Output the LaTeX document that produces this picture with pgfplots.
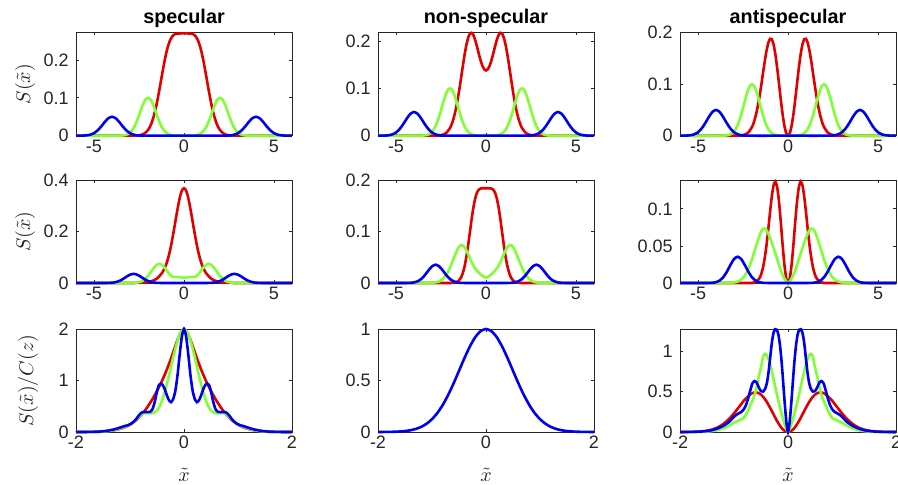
\documentclass[border=0pt]{standalone}
\usepackage{pgfplots}
\pgfplotsset{compat=1.18}
\usepackage{pgfplotstable}
\usepackage{fontspec}
\setmainfont{Liberation Sans}

\definecolor{cred}{RGB}{224,0,0}
\definecolor{cgreen}{RGB}{128,255,51}
\definecolor{cblue}{RGB}{0,0,240}
\definecolor{axgray}{RGB}{38,38,38}

% shared side peaks, row 1 (same in all three columns)
\pgfplotstableread{
x y
-6 0
-4 0
-3.6 0.0002
-3.4 0.0007
-3.2 0.0027
-3.0 0.0082
-2.9 0.0132
-2.8 0.0202
-2.7 0.0294
-2.6 0.0407
-2.5 0.0535
-2.4 0.0670
-2.3 0.0799
-2.2 0.0905
-2.1 0.0975
-2.0 0.1000
-1.9 0.0975
-1.8 0.0905
-1.7 0.0799
-1.6 0.0670
-1.5 0.0535
-1.4 0.0407
-1.3 0.0294
-1.2 0.0202
-1.1 0.0132
-1.0 0.0082
-0.9 0.0049
-0.8 0.0027
-0.6 0.0007
-0.4 0.0002
0 0
0.4 0.0002
0.6 0.0007
0.8 0.0027
0.9 0.0049
1.0 0.0082
1.1 0.0132
1.2 0.0202
1.3 0.0294
1.4 0.0407
1.5 0.0535
1.6 0.0670
1.7 0.0799
1.8 0.0905
1.9 0.0975
2.0 0.1000
2.1 0.0975
2.2 0.0905
2.3 0.0799
2.4 0.0670
2.5 0.0535
2.6 0.0407
2.7 0.0294
2.8 0.0202
2.9 0.0132
3.0 0.0082
3.2 0.0027
3.4 0.0007
3.6 0.0002
4 0
6 0
}\greenA

\pgfplotstableread{
x y
-6 0
-5.8 0.0001
-5.6 0.0003
-5.4 0.0010
-5.2 0.0028
-5.0 0.0068
-4.8 0.0139
-4.6 0.0243
-4.4 0.0363
-4.2 0.0462
-4.0 0.0500
-3.8 0.0462
-3.6 0.0363
-3.4 0.0243
-3.2 0.0139
-3.0 0.0068
-2.8 0.0028
-2.6 0.0010
-2.4 0.0003
-2.2 0.0001
-2.0 0
0 0
2.0 0
2.2 0.0001
2.4 0.0003
2.6 0.0010
2.8 0.0028
3.0 0.0068
3.2 0.0139
3.4 0.0243
3.6 0.0363
3.8 0.0462
4.0 0.0500
4.2 0.0462
4.4 0.0363
4.6 0.0243
4.8 0.0139
5.0 0.0068
5.2 0.0028
5.4 0.0010
5.6 0.0003
5.8 0.0001
6 0
}\blueA

% shared side peaks, row 2
\pgfplotstableread{
x y
-6 0
-4.6 0
-4.4 0.0001
-4.2 0.0003
-4.0 0.0011
-3.8 0.0033
-3.6 0.0077
-3.4 0.0151
-3.2 0.0243
-3.0 0.0323
-2.8 0.0355
-2.6 0.0323
-2.4 0.0243
-2.2 0.0151
-2.0 0.0077
-1.8 0.0033
-1.6 0.0011
-1.4 0.0003
-1.2 0.0001
-1.0 0
0 0
1.0 0
1.2 0.0001
1.4 0.0003
1.6 0.0011
1.8 0.0033
2.0 0.0077
2.2 0.0151
2.4 0.0243
2.6 0.0323
2.8 0.0355
3.0 0.0323
3.2 0.0243
3.4 0.0151
3.6 0.0077
3.8 0.0033
4.0 0.0011
4.2 0.0003
4.4 0.0001
4.6 0
6 0
}\blueB

\pgfplotsset{
  panel/.style={
    scale only axis, width=108pt, height=51.5pt,
    anchor=north west, clip=false, ymin=0,
    axis line style={axgray, line width=0.4pt},
    every tick/.style={axgray, line width=0.4pt},
    major tick length=1.3pt, tick align=inside,
    scaled ticks=false,
    /pgf/number format/assume math mode=true,
    tick label style={font=\fontsize{9}{10}\selectfont, text=axgray},
    xticklabel style={inner sep=2pt},
    yticklabel style={inner sep=3.5pt},
    every axis title shift=0pt,
    title style={font=\fontsize{9.9}{11}\selectfont\bfseries, at={(0.5,1)}, anchor=base, yshift=4.4pt},
    ylabel style={at={(axis description cs:-0.236,0.5)}, anchor=center, font=\fontsize{9.9}{11}\selectfont, text=axgray},
    xlabel style={at={(axis description cs:0.5,0)}, anchor=base, yshift=-24.7pt, font=\fontsize{9.9}{11}\selectfont, text=axgray},
    every axis plot/.append style={line width=1.3pt, smooth, tension=0.4},
  },
  wide/.style={xmin=-6, xmax=6, xtick={-5,0,5}, xticklabels={-5,0,5}},
  narrow/.style={xmin=-2, xmax=2, xtick={-2,0,2}, xticklabels={-2,0,2}},
}

\begin{document}
\begin{tikzpicture}
\useasboundingbox (0,0) rectangle (449pt,-242.5pt);

% ---------------- row 1 ----------------
\begin{axis}[panel, wide, at={(38pt,-16.35pt)}, ymax=0.272,
  ytick={0,0.1,0.2}, yticklabels={0,0.1,0.2},
  title={specular}, ylabel={$S(\tilde{x})$}]
\addplot[cred] coordinates {(-6,0) (-3,0) (-2.8,0.0001) (-2.6,0.0005) (-2.4,0.0018) (-2.2,0.0056) (-2,0.0148) (-1.9,0.0227) (-1.8,0.0337) (-1.7,0.0481) (-1.6,0.0663) (-1.5,0.0880) (-1.4,0.1128) (-1.3,0.1394) (-1.2,0.1665) (-1.1,0.1924) (-1,0.2154) (-0.9,0.2345) (-0.8,0.2489) (-0.7,0.2588) (-0.6,0.2649) (-0.5,0.2681) (-0.4,0.2694) (-0.3,0.2699) (-0.2,0.27) (-0.1,0.27) (0,0.27) (0.1,0.27) (0.2,0.27) (0.3,0.2699) (0.4,0.2694) (0.5,0.2681) (0.6,0.2649) (0.7,0.2588) (0.8,0.2489) (0.9,0.2345) (1,0.2154) (1.1,0.1924) (1.2,0.1665) (1.3,0.1394) (1.4,0.1128) (1.5,0.0880) (1.6,0.0663) (1.7,0.0481) (1.8,0.0337) (1.9,0.0227) (2,0.0148) (2.2,0.0056) (2.4,0.0018) (2.6,0.0005) (2.8,0.0001) (3,0) (6,0)};
\addplot[cgreen] table {\greenA};
\addplot[cblue] table {\blueA};
\end{axis}

\begin{axis}[panel, wide, at={(189pt,-16.35pt)}, ymax=0.2175,
  ytick={0,0.1,0.2}, yticklabels={0,0.1,0.2},
  title={non-specular}]
\addplot[cred] coordinates {(-6,0) (-3,0) (-2.8,0.0002) (-2.6,0.0006) (-2.4,0.0020) (-2.2,0.0062) (-2,0.0162) (-1.9,0.0248) (-1.8,0.0366) (-1.7,0.0519) (-1.6,0.0710) (-1.5,0.0933) (-1.4,0.1181) (-1.3,0.1438) (-1.2,0.1684) (-1.1,0.1898) (-1,0.2058) (-0.9,0.2152) (-0.8,0.2172) (-0.7,0.2124) (-0.6,0.2020) (-0.5,0.1882) (-0.4,0.1730) (-0.3,0.1589) (-0.2,0.1476) (-0.1,0.1403) (0,0.1377) (0.1,0.1403) (0.2,0.1476) (0.3,0.1589) (0.4,0.1730) (0.5,0.1882) (0.6,0.2020) (0.7,0.2124) (0.8,0.2172) (0.9,0.2152) (1,0.2058) (1.1,0.1898) (1.2,0.1684) (1.3,0.1438) (1.4,0.1181) (1.5,0.0933) (1.6,0.0710) (1.7,0.0519) (1.8,0.0366) (1.9,0.0248) (2,0.0162) (2.2,0.0062) (2.4,0.0020) (2.6,0.0006) (2.8,0.0002) (3,0) (6,0)};
\addplot[cgreen] table {\greenA};
\addplot[cblue] table {\blueA};
\end{axis}

\begin{axis}[panel, wide, at={(340pt,-16.35pt)}, ymax=0.2,
  ytick={0,0.1,0.2}, yticklabels={0,0.1,0.2},
  title={antispecular}]
\addplot[cred] coordinates {(-6,0) (-3,0) (-2.8,0.0002) (-2.6,0.0006) (-2.4,0.0021) (-2.2,0.0065) (-2,0.0169) (-1.9,0.0258) (-1.8,0.0380) (-1.7,0.0536) (-1.6,0.0728) (-1.5,0.0950) (-1.4,0.1188) (-1.3,0.1425) (-1.2,0.1637) (-1.1,0.1797) (-1,0.1881) (-0.9,0.1874) (-0.8,0.1769) (-0.7,0.1575) (-0.6,0.1311) (-0.5,0.1008) (-0.4,0.0698) (-0.3,0.0416) (-0.2,0.0193) (-0.1,0.0049) (0,0) (0.1,0.0049) (0.2,0.0193) (0.3,0.0416) (0.4,0.0698) (0.5,0.1008) (0.6,0.1311) (0.7,0.1575) (0.8,0.1769) (0.9,0.1874) (1,0.1881) (1.1,0.1797) (1.2,0.1637) (1.3,0.1425) (1.4,0.1188) (1.5,0.0950) (1.6,0.0728) (1.7,0.0536) (1.8,0.0380) (1.9,0.0258) (2,0.0169) (2.2,0.0065) (2.4,0.0021) (2.6,0.0006) (2.8,0.0002) (3,0) (6,0)};
\addplot[cgreen] table {\greenA};
\addplot[cblue] table {\blueA};
\end{axis}

% ---------------- row 2 ----------------
\begin{axis}[panel, wide, at={(38pt,-90pt)}, ymax=0.4,
  ytick={0,0.2,0.4}, yticklabels={0,0.2,0.4},
  ylabel={$S(\tilde{x})$}]
\addplot[cred] coordinates {(-6,0) (-3,0) (-2.4,0.001) (-2,0.0035) (-1.8,0.007) (-1.6,0.013) (-1.4,0.024) (-1.2,0.041) (-1.1,0.054) (-1,0.070) (-0.9,0.092) (-0.8,0.119) (-0.7,0.152) (-0.6,0.190) (-0.5,0.230) (-0.4,0.271) (-0.3,0.309) (-0.2,0.341) (-0.1,0.361) (0,0.368) (0.1,0.361) (0.2,0.341) (0.3,0.309) (0.4,0.271) (0.5,0.230) (0.6,0.190) (0.7,0.152) (0.8,0.119) (0.9,0.092) (1,0.070) (1.1,0.054) (1.2,0.041) (1.4,0.024) (1.6,0.013) (1.8,0.007) (2,0.0035) (2.4,0.001) (3,0) (6,0)};
\addplot[cgreen] coordinates {(-6,0) (-3.2,0) (-3,0.0001) (-2.8,0.0004) (-2.6,0.0017) (-2.4,0.0052) (-2.2,0.0132) (-2,0.0274) (-1.9,0.0367) (-1.8,0.0466) (-1.7,0.0564) (-1.6,0.0648) (-1.5,0.0709) (-1.4,0.0738) (-1.3,0.0731) (-1.2,0.0689) (-1.1,0.0617) (-1,0.0526) (-0.9,0.0427) (-0.8,0.0336) (-0.7,0.0272) (-0.6,0.0242) (-0.5,0.0235) (-0.4,0.0234) (-0.2,0.0222) (0,0.0207) (0.2,0.0222) (0.4,0.0234) (0.5,0.0235) (0.6,0.0242) (0.7,0.0272) (0.8,0.0336) (0.9,0.0427) (1,0.0526) (1.1,0.0617) (1.2,0.0689) (1.3,0.0731) (1.4,0.0738) (1.5,0.0709) (1.6,0.0648) (1.7,0.0564) (1.8,0.0466) (1.9,0.0367) (2,0.0274) (2.2,0.0132) (2.4,0.0052) (2.6,0.0017) (2.8,0.0004) (3,0.0001) (3.2,0) (6,0)};
\addplot[cblue] table {\blueB};
\end{axis}

\begin{axis}[panel, wide, at={(189pt,-90pt)}, ymax=0.2,
  ytick={0,0.1,0.2}, yticklabels={0,0.1,0.2}]
\addplot[cred] coordinates {(-6,0) (-2.2,0) (-2,0.0001) (-1.8,0.0004) (-1.6,0.0024) (-1.5,0.0050) (-1.4,0.0099) (-1.3,0.0182) (-1.2,0.0309) (-1.1,0.0488) (-1,0.0714) (-0.9,0.0972) (-0.8,0.1234) (-0.7,0.1466) (-0.6,0.1643) (-0.5,0.1755) (-0.4,0.1813) (-0.3,0.1834) (-0.2,0.1839) (-0.1,0.184) (0,0.184) (0.1,0.184) (0.2,0.1839) (0.3,0.1834) (0.4,0.1813) (0.5,0.1755) (0.6,0.1643) (0.7,0.1466) (0.8,0.1234) (0.9,0.0972) (1,0.0714) (1.1,0.0488) (1.2,0.0309) (1.3,0.0182) (1.4,0.0099) (1.5,0.0050) (1.6,0.0024) (1.8,0.0004) (2,0.0001) (2.2,0) (6,0)};
\addplot[cgreen] coordinates {(-6,0) (-3.4,0) (-3.2,0.0001) (-3,0.0004) (-2.8,0.0012) (-2.6,0.0031) (-2.4,0.0076) (-2.2,0.0161) (-2,0.0297) (-1.8,0.0473) (-1.6,0.0639) (-1.5,0.0700) (-1.4,0.0733) (-1.3,0.0733) (-1.2,0.0702) (-1.1,0.0644) (-1,0.0568) (-0.8,0.0403) (-0.6,0.0281) (-0.4,0.0202) (-0.2,0.0141) (0,0.0104) (0.2,0.0141) (0.4,0.0202) (0.6,0.0281) (0.8,0.0403) (1,0.0568) (1.1,0.0644) (1.2,0.0702) (1.3,0.0733) (1.4,0.0733) (1.5,0.0700) (1.6,0.0639) (1.8,0.0473) (2,0.0297) (2.2,0.0161) (2.4,0.0076) (2.6,0.0031) (2.8,0.0012) (3,0.0004) (3.2,0.0001) (3.4,0) (6,0)};
\addplot[cblue] table {\blueB};
\end{axis}

\begin{axis}[panel, wide, at={(340pt,-90pt)}, ymax=0.139,
  ytick={0,0.05,0.1}, yticklabels={0,0.05,0.1}]
\addplot[cred] coordinates {(-6,0) (-2.2,0) (-2,0.0002) (-1.8,0.0013) (-1.6,0.0059) (-1.5,0.0111) (-1.4,0.0197) (-1.3,0.0326) (-1.2,0.0502) (-1.1,0.0717) (-1,0.0952) (-0.9,0.1168) (-0.8,0.1321) (-0.7,0.1369) (-0.6,0.1292) (-0.5,0.1096) (-0.4,0.0819) (-0.3,0.0516) (-0.2,0.0247) (-0.1,0.0065) (0,0) (0.1,0.0065) (0.2,0.0247) (0.3,0.0516) (0.4,0.0819) (0.5,0.1096) (0.6,0.1292) (0.7,0.1369) (0.8,0.1321) (0.9,0.1168) (1,0.0952) (1.1,0.0717) (1.2,0.0502) (1.3,0.0326) (1.4,0.0197) (1.5,0.0111) (1.6,0.0059) (1.8,0.0013) (2,0.0002) (2.2,0) (6,0)};
\addplot[cgreen] coordinates {(-6,0) (-3.4,0) (-3.2,0.0002) (-3,0.0007) (-2.8,0.002) (-2.6,0.0045) (-2.4,0.010) (-2.2,0.019) (-2,0.032) (-1.8,0.048) (-1.6,0.063) (-1.5,0.069) (-1.4,0.0728) (-1.3,0.0735) (-1.2,0.0715) (-1.1,0.067) (-1,0.061) (-0.8,0.047) (-0.6,0.032) (-0.4,0.017) (-0.2,0.006) (0,0) (0.2,0.006) (0.4,0.017) (0.6,0.032) (0.8,0.047) (1,0.061) (1.1,0.067) (1.2,0.0715) (1.3,0.0735) (1.4,0.0728) (1.5,0.069) (1.6,0.063) (1.8,0.048) (2,0.032) (2.2,0.019) (2.4,0.010) (2.6,0.0045) (2.8,0.002) (3,0.0007) (3.2,0.0002) (3.4,0) (6,0)};
\addplot[cblue] table {\blueB};
\end{axis}

% ---------------- row 3 ----------------
\begin{axis}[panel, narrow, at={(38pt,-164.5pt)}, ymax=2,
  ytick={0,1,2}, yticklabels={0,1,2},
  ylabel={$S(\tilde{x})/C(z)$}, ylabel style={at={(axis description cs:-0.222,0.5)}},
  xlabel={$\tilde{x}$}]
\addplot[cred] coordinates {(-2,0) (-1.8,0.001) (-1.6,0.004) (-1.5,0.009) (-1.4,0.018) (-1.3,0.032) (-1.2,0.056) (-1.1,0.092) (-1,0.145) (-0.9,0.22) (-0.8,0.32) (-0.7,0.45) (-0.6,0.61) (-0.55,0.70) (-0.5,0.80) (-0.45,0.90) (-0.4,1.01) (-0.35,1.13) (-0.3,1.26) (-0.25,1.40) (-0.2,1.55) (-0.15,1.70) (-0.1,1.84) (-0.05,1.95) (0,2) (0.05,1.95) (0.1,1.84) (0.15,1.70) (0.2,1.55) (0.25,1.40) (0.3,1.26) (0.35,1.13) (0.4,1.01) (0.45,0.90) (0.5,0.80) (0.55,0.70) (0.6,0.61) (0.7,0.45) (0.8,0.32) (0.9,0.22) (1,0.145) (1.1,0.092) (1.2,0.056) (1.3,0.032) (1.4,0.018) (1.5,0.009) (1.6,0.004) (1.8,0.001) (2,0)};
\addplot[cgreen] coordinates {(-2,0) (-1.8,0.001) (-1.6,0.004) (-1.5,0.009) (-1.4,0.019) (-1.3,0.036) (-1.2,0.062) (-1.1,0.10) (-1,0.15) (-0.95,0.185) (-0.9,0.23) (-0.85,0.28) (-0.8,0.33) (-0.75,0.36) (-0.7,0.37) (-0.65,0.365) (-0.6,0.365) (-0.55,0.38) (-0.5,0.42) (-0.45,0.50) (-0.4,0.63) (-0.35,0.80) (-0.3,1.00) (-0.25,1.22) (-0.2,1.45) (-0.15,1.66) (-0.1,1.84) (-0.05,1.96) (0,2) (0.05,1.96) (0.1,1.84) (0.15,1.66) (0.2,1.45) (0.25,1.22) (0.3,1.00) (0.35,0.80) (0.4,0.63) (0.45,0.50) (0.5,0.42) (0.55,0.38) (0.6,0.365) (0.65,0.365) (0.7,0.37) (0.75,0.36) (0.8,0.33) (0.85,0.28) (0.9,0.23) (0.95,0.185) (1,0.15) (1.1,0.10) (1.2,0.062) (1.3,0.036) (1.4,0.019) (1.5,0.009) (1.6,0.004) (1.8,0.001) (2,0)};
\addplot[cblue] coordinates {(-2,0) (-1.8,0.001) (-1.6,0.006) (-1.5,0.014) (-1.4,0.028) (-1.3,0.05) (-1.2,0.08) (-1.1,0.115) (-1.03,0.135) (-0.98,0.16) (-0.93,0.20) (-0.88,0.26) (-0.83,0.33) (-0.78,0.38) (-0.73,0.39) (-0.68,0.385) (-0.63,0.39) (-0.59,0.43) (-0.55,0.55) (-0.51,0.74) (-0.47,0.90) (-0.43,0.94) (-0.40,0.92) (-0.36,0.84) (-0.32,0.72) (-0.28,0.62) (-0.24,0.58) (-0.2,0.64) (-0.16,0.80) (-0.12,1.10) (-0.08,1.50) (-0.04,1.85) (0,2) (0.04,1.85) (0.08,1.50) (0.12,1.10) (0.16,0.80) (0.2,0.64) (0.24,0.58) (0.28,0.62) (0.32,0.72) (0.36,0.84) (0.40,0.92) (0.43,0.94) (0.47,0.90) (0.51,0.74) (0.55,0.55) (0.59,0.43) (0.63,0.39) (0.68,0.385) (0.73,0.39) (0.78,0.38) (0.83,0.33) (0.88,0.26) (0.93,0.20) (0.98,0.16) (1.03,0.135) (1.1,0.115) (1.2,0.08) (1.3,0.05) (1.4,0.028) (1.5,0.014) (1.6,0.006) (1.8,0.001) (2,0)};
\end{axis}

\begin{axis}[panel, narrow, at={(189pt,-164.5pt)}, ymax=1,
  ytick={0,0.5,1}, yticklabels={0,0.5,1},
  xlabel={$\tilde{x}$}]
\addplot[cblue] coordinates {(-2,0.0002) (-1.9,0.0005) (-1.8,0.0012) (-1.7,0.0024) (-1.6,0.0048) (-1.5,0.0092) (-1.4,0.0169) (-1.3,0.0296) (-1.2,0.0498) (-1.1,0.0804) (-1,0.1245) (-0.9,0.1850) (-0.8,0.2636) (-0.7,0.3603) (-0.6,0.4724) (-0.5,0.5941) (-0.4,0.7165) (-0.3,0.8290) (-0.2,0.9200) (-0.1,0.9794) (0,1) (0.1,0.9794) (0.2,0.9200) (0.3,0.8290) (0.4,0.7165) (0.5,0.5941) (0.6,0.4724) (0.7,0.3603) (0.8,0.2636) (0.9,0.1850) (1,0.1245) (1.1,0.0804) (1.2,0.0498) (1.3,0.0296) (1.4,0.0169) (1.5,0.0092) (1.6,0.0048) (1.7,0.0024) (1.8,0.0012) (1.9,0.0005) (2,0.0002)};
\end{axis}

\begin{axis}[panel, narrow, at={(340pt,-164.5pt)}, ymax=1.273,
  ytick={0,0.5,1}, yticklabels={0,0.5,1},
  xlabel={$\tilde{x}$}]
\addplot[cred] coordinates {(-2,0.0002) (-1.8,0.0015) (-1.7,0.0035) (-1.6,0.0077) (-1.5,0.0161) (-1.4,0.0313) (-1.3,0.0572) (-1.2,0.0976) (-1.1,0.1553) (-1,0.2301) (-0.9,0.3159) (-0.8,0.4002) (-0.7,0.4649) (-0.65,0.4834) (-0.6,0.4900) (-0.55,0.4831) (-0.5,0.4619) (-0.45,0.4269) (-0.4,0.3796) (-0.35,0.3225) (-0.3,0.2593) (-0.25,0.1944) (-0.2,0.1324) (-0.15,0.0782) (-0.1,0.0360) (-0.05,0.0092) (0,0) (0.05,0.0092) (0.1,0.0360) (0.15,0.0782) (0.2,0.1324) (0.25,0.1944) (0.3,0.2593) (0.35,0.3225) (0.4,0.3796) (0.45,0.4269) (0.5,0.4619) (0.55,0.4831) (0.6,0.4900) (0.65,0.4834) (0.7,0.4649) (0.8,0.4002) (0.9,0.3159) (1,0.2301) (1.1,0.1553) (1.2,0.0976) (1.3,0.0572) (1.4,0.0313) (1.5,0.0161) (1.6,0.0077) (1.7,0.0035) (1.8,0.0015) (2,0.0002)};
\addplot[cgreen] coordinates {(-2,0) (-1.7,0.001) (-1.5,0.005) (-1.4,0.012) (-1.3,0.025) (-1.2,0.045) (-1.1,0.075) (-1,0.115) (-0.95,0.13) (-0.9,0.145) (-0.85,0.16) (-0.8,0.19) (-0.75,0.25) (-0.7,0.33) (-0.65,0.40) (-0.6,0.50) (-0.55,0.66) (-0.5,0.80) (-0.46,0.93) (-0.43,0.965) (-0.4,0.955) (-0.35,0.88) (-0.3,0.75) (-0.25,0.60) (-0.2,0.45) (-0.15,0.31) (-0.1,0.18) (-0.05,0.07) (0,0) (0.05,0.07) (0.1,0.18) (0.15,0.31) (0.2,0.45) (0.25,0.60) (0.3,0.75) (0.35,0.88) (0.4,0.955) (0.43,0.965) (0.46,0.93) (0.5,0.80) (0.55,0.66) (0.6,0.50) (0.65,0.40) (0.7,0.33) (0.75,0.25) (0.8,0.19) (0.85,0.16) (0.9,0.145) (0.95,0.13) (1,0.115) (1.1,0.075) (1.2,0.045) (1.3,0.025) (1.4,0.012) (1.5,0.005) (1.7,0.001) (2,0)};
\addplot[cblue] coordinates {(-2,0) (-1.8,0.001) (-1.6,0.006) (-1.5,0.012) (-1.4,0.024) (-1.3,0.045) (-1.2,0.075) (-1.1,0.12) (-1.04,0.16) (-0.98,0.20) (-0.94,0.22) (-0.90,0.235) (-0.86,0.25) (-0.82,0.28) (-0.78,0.33) (-0.74,0.41) (-0.70,0.51) (-0.66,0.60) (-0.62,0.63) (-0.58,0.61) (-0.54,0.55) (-0.50,0.505) (-0.46,0.50) (-0.42,0.54) (-0.39,0.61) (-0.36,0.74) (-0.33,0.92) (-0.30,1.10) (-0.27,1.22) (-0.24,1.27) (-0.21,1.265) (-0.18,1.21) (-0.15,1.08) (-0.12,0.88) (-0.09,0.62) (-0.06,0.35) (-0.03,0.12) (0,0) (0.03,0.12) (0.06,0.35) (0.09,0.62) (0.12,0.88) (0.15,1.08) (0.18,1.21) (0.21,1.265) (0.24,1.27) (0.27,1.22) (0.30,1.10) (0.33,0.92) (0.36,0.74) (0.39,0.61) (0.42,0.54) (0.46,0.50) (0.50,0.505) (0.54,0.55) (0.58,0.61) (0.62,0.63) (0.66,0.60) (0.70,0.51) (0.74,0.41) (0.78,0.33) (0.82,0.28) (0.86,0.25) (0.90,0.235) (0.94,0.22) (0.98,0.20) (1.04,0.16) (1.1,0.12) (1.2,0.075) (1.3,0.045) (1.4,0.024) (1.5,0.012) (1.6,0.006) (1.8,0.001) (2,0)};
\end{axis}
\end{tikzpicture}
\end{document}
